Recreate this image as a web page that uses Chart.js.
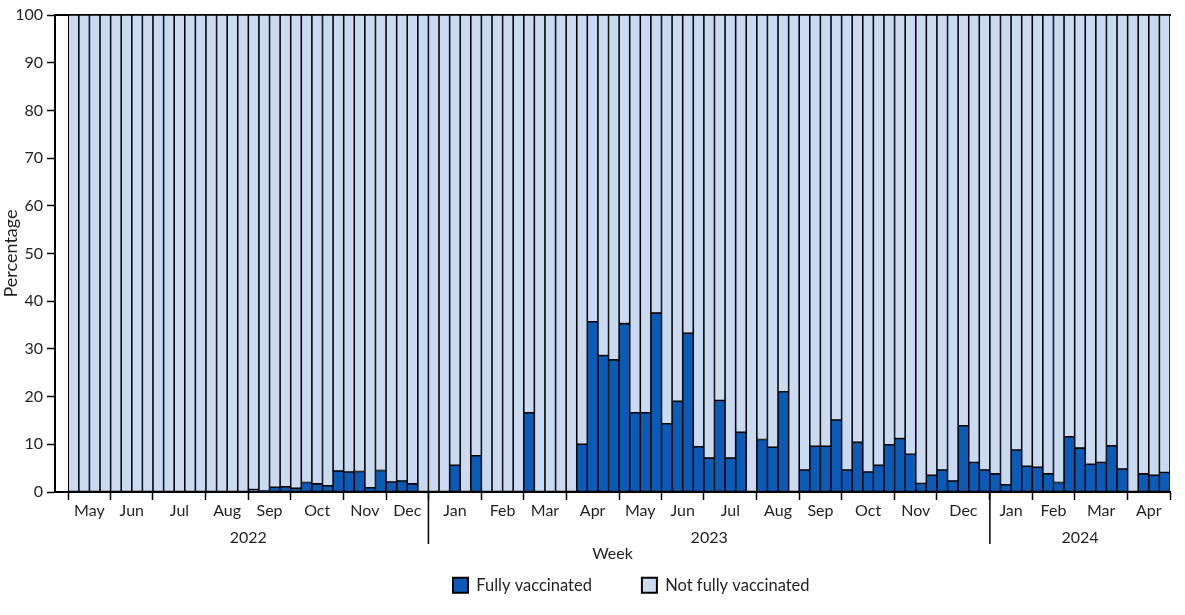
<!DOCTYPE html>
<html>
<head>
<meta charset="utf-8">
<script src="https://cdn.jsdelivr.net/npm/chart.js@4.4.1/dist/chart.umd.min.js"></script>
<style>
  html, body { margin: 0; padding: 0; background: #ffffff; }
  #wrap { width: 1185px; height: 615px; position: relative; }
</style>
</head>
<body>
<div id="wrap"><canvas id="c"></canvas></div>
<script>
// ---------------- DATA ----------------
const months = ['May','Jun','Jul','Aug','Sep','Oct','Nov','Dec',
                'Jan','Feb','Mar','Apr','May','Jun','Jul','Aug','Sep','Oct','Nov','Dec',
                'Jan','Feb','Mar','Apr'];
const weeksPerMonth = [4,4,5,4,4,5,4,4,
                       5,4,4,5,4,4,5,4,4,5,4,5,
                       4,4,5,4];
const years = ['2022','2023','2024'];
const monthsPerYear = [8,12,4];
const seriesNames = ['Fully vaccinated','Not fully vaccinated'];
const yTicks = [0,10,20,30,40,50,60,70,80,90,100];

// Weekly percentage of cases, fully vaccinated
const fullyVaccinated = [
  0,0,0,0,            // May 2022
  0,0,0,0,            // Jun
  0,0,0,0,0,          // Jul
  0,0,0,0,            // Aug
  0.5,0.2,1.0,1.1,    // Sep
  0.8,2.0,1.7,1.3,4.4,// Oct
  4.2,4.3,0.9,4.5,    // Nov
  2.1,2.3,1.7,0,      // Dec
  0,0,5.6,0,7.6,      // Jan 2023
  0,0,0,0,            // Feb
  16.6,0,0,0,         // Mar
  0,10.0,35.7,28.6,27.7, // Apr
  35.3,16.6,16.6,37.5,   // May
  14.3,19.0,33.3,9.5,    // Jun
  7.1,19.2,7.1,12.5,0,   // Jul
  11.0,9.4,21.0,0,       // Aug
  4.6,9.6,9.6,15.1,      // Sep
  4.6,10.4,4.2,5.6,9.9,  // Oct
  11.2,7.9,1.8,3.5,      // Nov
  4.6,2.3,13.9,6.2,4.6,  // Dec
  3.8,1.5,8.8,5.4,       // Jan 2024
  5.2,3.8,2.0,11.6,      // Feb
  9.2,5.8,6.2,9.7,4.8,   // Mar
  0,3.8,3.5,4.1          // Apr
];

// Weekly percentage of cases, not fully vaccinated
const notFullyVaccinated = [
  100,100,100,100,
  100,100,100,100,
  100,100,100,100,100,
  100,100,100,100,
  99.5,99.8,99.0,98.9,
  99.2,98.0,98.3,98.7,95.6,
  95.8,95.7,99.1,95.5,
  97.9,97.7,98.3,100,
  100,100,94.4,100,92.4,
  100,100,100,100,
  83.4,100,100,100,
  100,90.0,64.3,71.4,72.3,
  64.7,83.4,83.4,62.5,
  85.7,81.0,66.7,90.5,
  92.9,80.8,92.9,87.5,100,
  89.0,90.6,79.0,100,
  95.4,90.4,90.4,84.9,
  95.4,89.6,95.8,94.4,90.1,
  88.8,92.1,98.2,96.5,
  95.4,97.7,86.1,93.8,95.4,
  96.2,98.5,91.2,94.6,
  94.8,96.2,98.0,88.4,
  90.8,94.2,93.8,90.3,95.2,
  100,96.2,96.5,95.9
];

// ---------------- STYLE ----------------
const DARK = '#0b5bb6';
const LIGHT = '#c9daf1';
const INK = '#231f20';
Chart.defaults.font.family = 'Lato, "Open Sans", sans-serif';
Chart.defaults.font.size = 16;
Chart.defaults.color = INK;

// ---------------- DERIVED AXIS HELPERS ----------------
const weekEdges = [0];
weeksPerMonth.forEach(w => weekEdges.push(weekEdges[weekEdges.length - 1] + w));
const monthLabelAt = new Map();
months.forEach((m, k) => monthLabelAt.set((weekEdges[k] + weekEdges[k + 1]) / 2, m));
const monthTickValues = [...weekEdges, ...monthLabelAt.keys()].sort((a, b) => a - b);
const edgeSet = new Set(weekEdges);

const yearEdges = [0];
let mCount = 0;
monthsPerYear.forEach(n => { mCount += n; yearEdges.push(weekEdges[mCount]); });
const yearLabelAt = new Map();
years.forEach((y, k) => yearLabelAt.set((yearEdges[k] + yearEdges[k + 1]) / 2, y));

const X_MIN = -1.25;
const X_MAX = weekEdges[weekEdges.length - 1];

const toPoints = arr => arr.map((v, i) => ({ x: i + 0.5, y: v }));

// ---------------- PLUGINS ----------------
const yearSeparators = {
  id: 'yearSeparators',
  afterDraw(chart) {
    const xs = chart.scales.x, ca = chart.chartArea, ctx = chart.ctx;
    ctx.save();
    ctx.strokeStyle = '#000';
    ctx.lineWidth = 1.5;
    yearEdges.slice(1, -1).forEach(v => {
      const px = xs.getPixelForValue(v);
      ctx.beginPath();
      ctx.moveTo(px, ca.bottom);
      ctx.lineTo(px, ca.bottom + 52);
      ctx.stroke();
    });
    ctx.restore();
  }
};

const legendPlacer = {
  id: 'legendPlacer',
  afterLayout(chart) {
    const lg = chart.legend;
    if (!lg) return;
    const P = lg.options.labels.padding;
    lg.top = 577 - P;
    lg.bottom = chart.height;
    lg.height = lg.bottom - lg.top;
    lg.left = 453 - P;
    lg.right = chart.width;
    lg.width = lg.right - lg.left;
  }
};

// ---------------- CHART ----------------
new Chart(document.getElementById('c'), {
  type: 'bar',
  data: {
    datasets: [
      {
        label: seriesNames[0],
        data: toPoints(fullyVaccinated),
        backgroundColor: DARK,
        borderColor: '#000',
        borderWidth: 1.1,
        borderSkipped: false,
        categoryPercentage: 1,
        barPercentage: 1,
        xAxisID: 'x', yAxisID: 'y'
      },
      {
        label: seriesNames[1],
        data: toPoints(notFullyVaccinated),
        backgroundColor: LIGHT,
        borderColor: '#000',
        borderWidth: 1.1,
        borderSkipped: false,
        categoryPercentage: 1,
        barPercentage: 1,
        xAxisID: 'x', yAxisID: 'y'
      }
    ]
  },
  options: {
    responsive: true,
    maintainAspectRatio: false,
    animation: false,
    layout: { padding: { top: 15, right: 15, bottom: 0, left: 0 } },
    plugins: {
      tooltip: { enabled: false },
      legend: {
        position: 'bottom',
        align: 'start',
        maxHeight: 52,
        labels: {
          boxWidth: 15,
          boxHeight: 15,
          padding: 50,
          color: INK,
          font: { size: 16.5 },
          generateLabels: chart => Chart.defaults.plugins.legend.labels.generateLabels(chart)
            .map(it => Object.assign({}, it, { lineWidth: 2, strokeStyle: '#000' }))
        }
      }
    },
    scales: {
      x: {
        type: 'linear', position: 'bottom', min: X_MIN, max: X_MAX, stacked: true, weight: 0,
        offset: false, bounds: 'data',
        afterBuildTicks: s => { s.ticks = monthTickValues.map(v => ({ value: v })); },
        afterFit: s => { s.height = 29; },
        ticks: {
          autoSkip: false, maxRotation: 0, minRotation: 0, padding: 1,
          callback: v => (monthLabelAt.has(v) ? monthLabelAt.get(v) : '')
        },
        grid: {
          offset: false,
          drawOnChartArea: false, drawTicks: true, tickLength: 8, tickWidth: 1.5,
          tickColor: c => (c.tick && edgeSet.has(c.tick.value)) ? '#000' : 'rgba(0,0,0,0)'
        },
        border: { display: true, color: '#000', width: 2 }
      },
      xYear: {
        type: 'linear', position: 'bottom', min: X_MIN, max: X_MAX, weight: 1,
        offset: false, bounds: 'data',
        afterBuildTicks: s => { s.ticks = [...yearLabelAt.keys()].map(v => ({ value: v })); },
        afterFit: s => { s.height = 42; },
        ticks: {
          autoSkip: false, maxRotation: 0, minRotation: 0, padding: 7,
          callback: v => (yearLabelAt.has(v) ? yearLabelAt.get(v) : '')
        },
        grid: { display: false, drawTicks: false, offset: false },
        border: { display: false },
        title: { display: true, text: 'Week', padding: 0, color: INK, font: { size: 16 } }
      },
      xTop: {
        type: 'linear', position: 'top', min: 0, max: 1,
        offset: false,
        afterFit: s => { s.height = 0; },
        ticks: { display: false },
        grid: { display: false, drawTicks: false, offset: false },
        border: { display: true, color: '#000', width: 2 }
      },
      y: {
        type: 'linear', min: 0, max: 100, stacked: true,
        afterBuildTicks: s => { s.ticks = yTicks.map(v => ({ value: v })); },
        afterFit: s => { s.width = 55; },
        ticks: { padding: 4, color: INK },
        grid: { drawOnChartArea: false, drawTicks: true, tickLength: 8, tickWidth: 1.5, tickColor: '#000' },
        border: { display: true, color: '#000', width: 2 },
        title: { display: true, text: 'Percentage', padding: 0, color: INK, font: { size: 18 } }
      }
    }
  },
  plugins: [yearSeparators, legendPlacer]
});
</script>
</body>
</html>
